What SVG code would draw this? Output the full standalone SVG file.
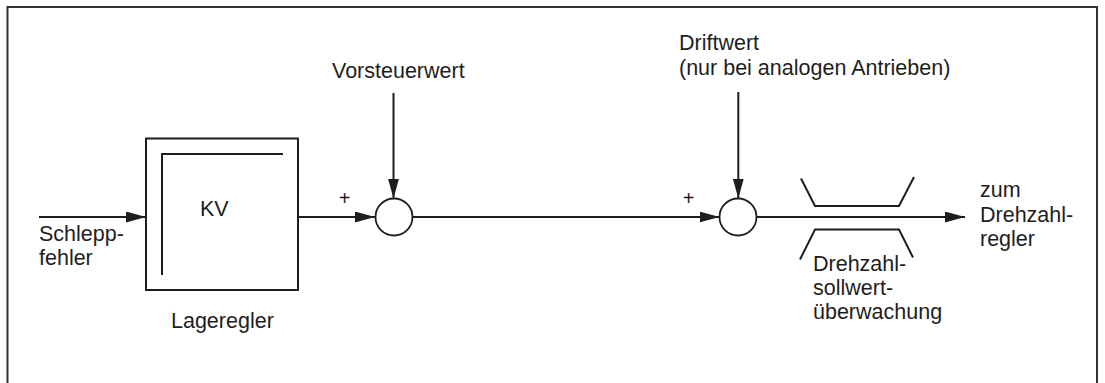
<svg xmlns="http://www.w3.org/2000/svg" width="1105" height="383" viewBox="0 0 1105 383">
<defs>
<style>
.t{font-family:"Liberation Sans",Arial,sans-serif;font-size:21.5px;fill:#1e1e1e}
.p{font-family:"Liberation Sans",Arial,sans-serif;font-size:20px;fill:#1e1e1e;text-anchor:middle}
.ln{stroke:#1e1e1e;stroke-width:2;fill:none}
.c{stroke:#1e1e1e;stroke-width:1.8;fill:#fff}
</style>
<marker id="ah" markerUnits="userSpaceOnUse" markerWidth="20" markerHeight="11" refX="20" refY="5.5" orient="auto">
<path d="M0,0 L20,5.5 L0,11 z" fill="#1e1e1e"/>
</marker>
</defs>
<rect x="7.5" y="7" width="1089.5" height="420" fill="#fff" stroke="#333" stroke-width="2"/>
<g id="connectors">
<line class="ln" x1="39" y1="217" x2="146" y2="217" marker-end="url(#ah)"/>
<line class="ln" x1="298" y1="217" x2="375" y2="217" marker-end="url(#ah)"/>
<line class="ln" x1="393.5" y1="93" x2="393.5" y2="198.5" marker-end="url(#ah)"/>
<line class="ln" x1="413" y1="217" x2="719.5" y2="217" marker-end="url(#ah)"/>
<line class="ln" x1="738.3" y1="92" x2="738.3" y2="198.5" marker-end="url(#ah)"/>
<line class="ln" x1="757" y1="217" x2="965" y2="217" marker-end="url(#ah)"/>
</g>
<g id="input-label">
<text class="t" x="39" y="240.5">Schlepp-</text>
<text class="t" x="39" y="265">fehler</text>
</g>
<g id="lageregler">
<rect x="146" y="138.5" width="152" height="151.5" class="ln"/>
<polyline class="ln" points="162,275 162,154 283,154"/>
<text class="t" x="200" y="216">KV</text>
<text class="t" x="171" y="328">Lageregler</text>
</g>
<g id="vorsteuerwert">
<text class="t" x="332" y="78">Vorsteuerwert</text>
</g>
<g id="sum1">
<circle class="c" cx="394" cy="217" r="18.5"/>
<text class="p" x="344.5" y="205">+</text>
</g>
<g id="driftwert">
<text class="t" x="679" y="50">Driftwert</text>
<text class="t" x="679" y="74.5">(nur bei analogen Antrieben)</text>
</g>
<g id="sum2">
<circle class="c" cx="738" cy="217" r="18.5"/>
<text class="p" x="688.5" y="205">+</text>
</g>
<g id="ueberwachung">
<polyline class="ln" points="801,178.5 815,206 899,206 914,177"/>
<polyline class="ln" points="800,259.5 815,229.5 899,229.5 913,257.5"/>
<text class="t" x="813" y="271">Drehzahl-</text>
<text class="t" x="813" y="295">sollwert-</text>
<text class="t" x="813" y="319">überwachung</text>
</g>
<g id="output-label">
<text class="t" x="980" y="197">zum</text>
<text class="t" x="980" y="221.5">Drehzahl-</text>
<text class="t" x="980" y="245.5">regler</text>
</g>
</svg>
